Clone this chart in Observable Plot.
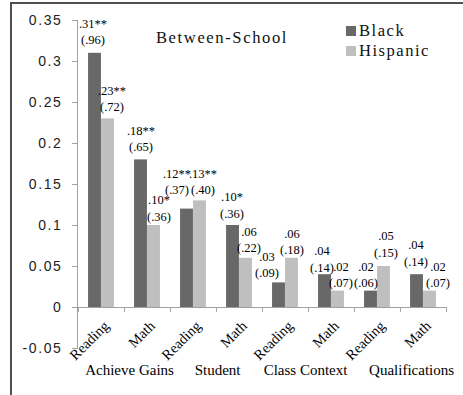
<!DOCTYPE html>
<html>
<head>
<meta charset="utf-8">
<script src="https://cdn.jsdelivr.net/npm/d3@7"></script>
<script src="https://cdn.jsdelivr.net/npm/@observablehq/plot@0.6"></script>
<style>
  body { margin: 0; background: #fff; }
  #wrap { position: relative; width: 463px; height: 395px; overflow: hidden; background: #fff; }
  #wrap svg { position: absolute; left: 0; top: 0; }
  #border { position: absolute; left: 10px; top: 2px; right: -5px; bottom: -5px;
            border-top: 2px solid #505050; border-left: 2px solid #505050; pointer-events: none; }
  #title { position: absolute; left: 0; width: 444px; top: 28px; text-align: center;
           font-family: "Times New Roman", "Liberation Serif", serif; font-size: 16.6px;
           line-height: 20px; letter-spacing: 1.6px; color: #111; }
  #legend { position: absolute; left: 346px; top: 21px;
            font-family: "Times New Roman", "Liberation Serif", serif; font-size: 16.6px;
            line-height: 20px; letter-spacing: 1.5px; color: #111; }
  #legend .row { display: flex; align-items: center; height: 20px; }
  #legend .sw { width: 10px; height: 10px; margin-right: 3px; }
  svg [aria-label="y-axis tick label"] text { letter-spacing: 1.6px; }
</style>
</head>
<body>
<div id="wrap"></div>
<script>
// Between-school coefficients (effect sizes in parentheses), by predictor and subject
const groups = ["Achieve Gains", "Student", "Class Context", "Qualifications"];
const subjects = ["Reading", "Math"];
const seriesNames = ["Black", "Hispanic"];
const seriesColors = ["#686868", "#bfbfbf"];
const black = [0.31, 0.18, 0.12, 0.10, 0.03, 0.04, 0.02, 0.04];
const hispanic = [0.23, 0.10, 0.13, 0.06, 0.06, 0.02, 0.05, 0.02];
const blackStars = ["**", "**", "**", "*", "", "", "", ""];
const hispanicStars = ["**", "*", "**", "", "", "", "", ""];
const blackEffect = [".96", ".65", ".37", ".36", ".09", ".14", ".06", ".14"];
const hispanicEffect = [".72", ".36", ".40", ".22", ".18", ".07", ".15", ".07"];
const yTicks = [-0.05, 0, 0.05, 0.1, 0.15, 0.2, 0.25, 0.3, 0.35];

// Layout
const W = 463, H = 395;
const mL = 77, mR = 17, mT = 20, mB = 47;
const bw = (W - mL - mR) / subjects.length / groups.length;   // band width per category
const half = 6.5;                                              // half of a bar's width
const axisGray = "#a0a0a0";
const serif = "Times New Roman, Liberation Serif, serif";

// Label nudges [dx, dy] so neighbouring labels don't collide
const blackNudge = [[-2, -9], [0, -9], [-10, -15], [-1, -8], [-12, -6], [-3, -3], [-5, -4], [-1, -9]];
const hispanicNudge = [[4, -8], [5, -5], [3, -7], [3, -6], [0, -4], [3, -4], [2, -10], [8, -4]];
const groupNudge = [5, 1, -3, 11];

const keys = d3.range(groups.length * subjects.length).map(i => `${groups[Math.floor(i / 2)]}|${subjects[i % 2]}`);
const fmt = v => d3.format(".2f")(v).replace(/^0/, "");
const rows = keys.map((k, i) => ({
  key: k,
  subject: subjects[i % 2],
  black: black[i], hispanic: hispanic[i],
  blackLabel: `${fmt(black[i])}${blackStars[i]}\n(${blackEffect[i]})`,
  hispanicLabel: `${fmt(hispanic[i])}${hispanicStars[i]}\n(${hispanicEffect[i]})`
}));

const labelFont = { fontSize: 12.5, fontFamily: serif, lineHeight: 1.3, lineAnchor: "bottom", fill: "#000" };

const labelMarks = rows.flatMap((r, i) => [
  Plot.text([r], { x: "key", y: "black", text: "blackLabel", dx: -half + blackNudge[i][0], dy: blackNudge[i][1], ...labelFont }),
  Plot.text([r], { x: "key", y: "hispanic", text: "hispanicLabel", dx: half + hispanicNudge[i][0], dy: hispanicNudge[i][1], ...labelFont })
]);

const groupMarks = groups.map((g, gi) =>
  Plot.text([g], { x: () => keys[gi * 2], text: d => d, frameAnchor: "bottom", dx: bw / 2 + groupNudge[gi], dy: 26,
                   lineAnchor: "bottom", fontSize: 15, fontFamily: serif, fill: "#000" })
);

const chart = Plot.plot({
  width: W, height: H,
  marginLeft: mL, marginRight: mR, marginTop: mT, marginBottom: mB,
  style: { background: "transparent", overflow: "visible" },
  x: { type: "band", domain: keys, padding: 0, axis: null },
  y: { domain: [-0.05, 0.35] },
  marks: [
    Plot.frame({ anchor: "left", stroke: axisGray }),
    Plot.axisY({ ticks: yTicks, tickFormat: d => String(+d.toFixed(2)), tickSize: 5, tickPadding: 10,
                 fontSize: 14, fontFamily: "Arial, Liberation Sans, sans-serif", stroke: axisGray, fill: "#222" }),
    Plot.barY(rows, { x: "key", y: "black", fill: seriesColors[0], insetLeft: bw / 2 - 2 * half, insetRight: bw / 2 }),
    Plot.barY(rows, { x: "key", y: "hispanic", fill: seriesColors[1], insetLeft: bw / 2, insetRight: bw / 2 - 2 * half }),
    Plot.ruleY([0], { stroke: axisGray, insetLeft: -5 }),
    Plot.ruleX(keys, { x: d => d, dx: -bw / 2, y1: 0, y2: -0.006, stroke: axisGray }),
    Plot.ruleX([keys[keys.length - 1]], { x: d => d, dx: bw / 2, y1: 0, y2: -0.006, stroke: axisGray }),
    // category tick labels hang from the zero line
    Plot.text(rows, { x: "key", y: () => 0, text: "subject", rotate: -45, textAnchor: "end", lineAnchor: "top",
                      dx: 1, dy: 12, fontSize: 14.5, fontFamily: serif, fill: "#000" }),
    ...labelMarks,
    ...groupMarks
  ]
});

const wrap = document.getElementById("wrap");
wrap.appendChild(chart);

const title = document.createElement("div");
title.id = "title";
title.textContent = "Between-School";
wrap.appendChild(title);

const legend = document.createElement("div");
legend.id = "legend";
seriesNames.forEach((name, i) => {
  const row = document.createElement("div");
  row.className = "row";
  const sw = document.createElement("span");
  sw.className = "sw";
  sw.style.background = seriesColors[i];
  const tx = document.createElement("span");
  tx.textContent = name;
  row.append(sw, tx);
  legend.appendChild(row);
});
wrap.appendChild(legend);

const border = document.createElement("div");
border.id = "border";
wrap.appendChild(border);
</script>
</body>
</html>
